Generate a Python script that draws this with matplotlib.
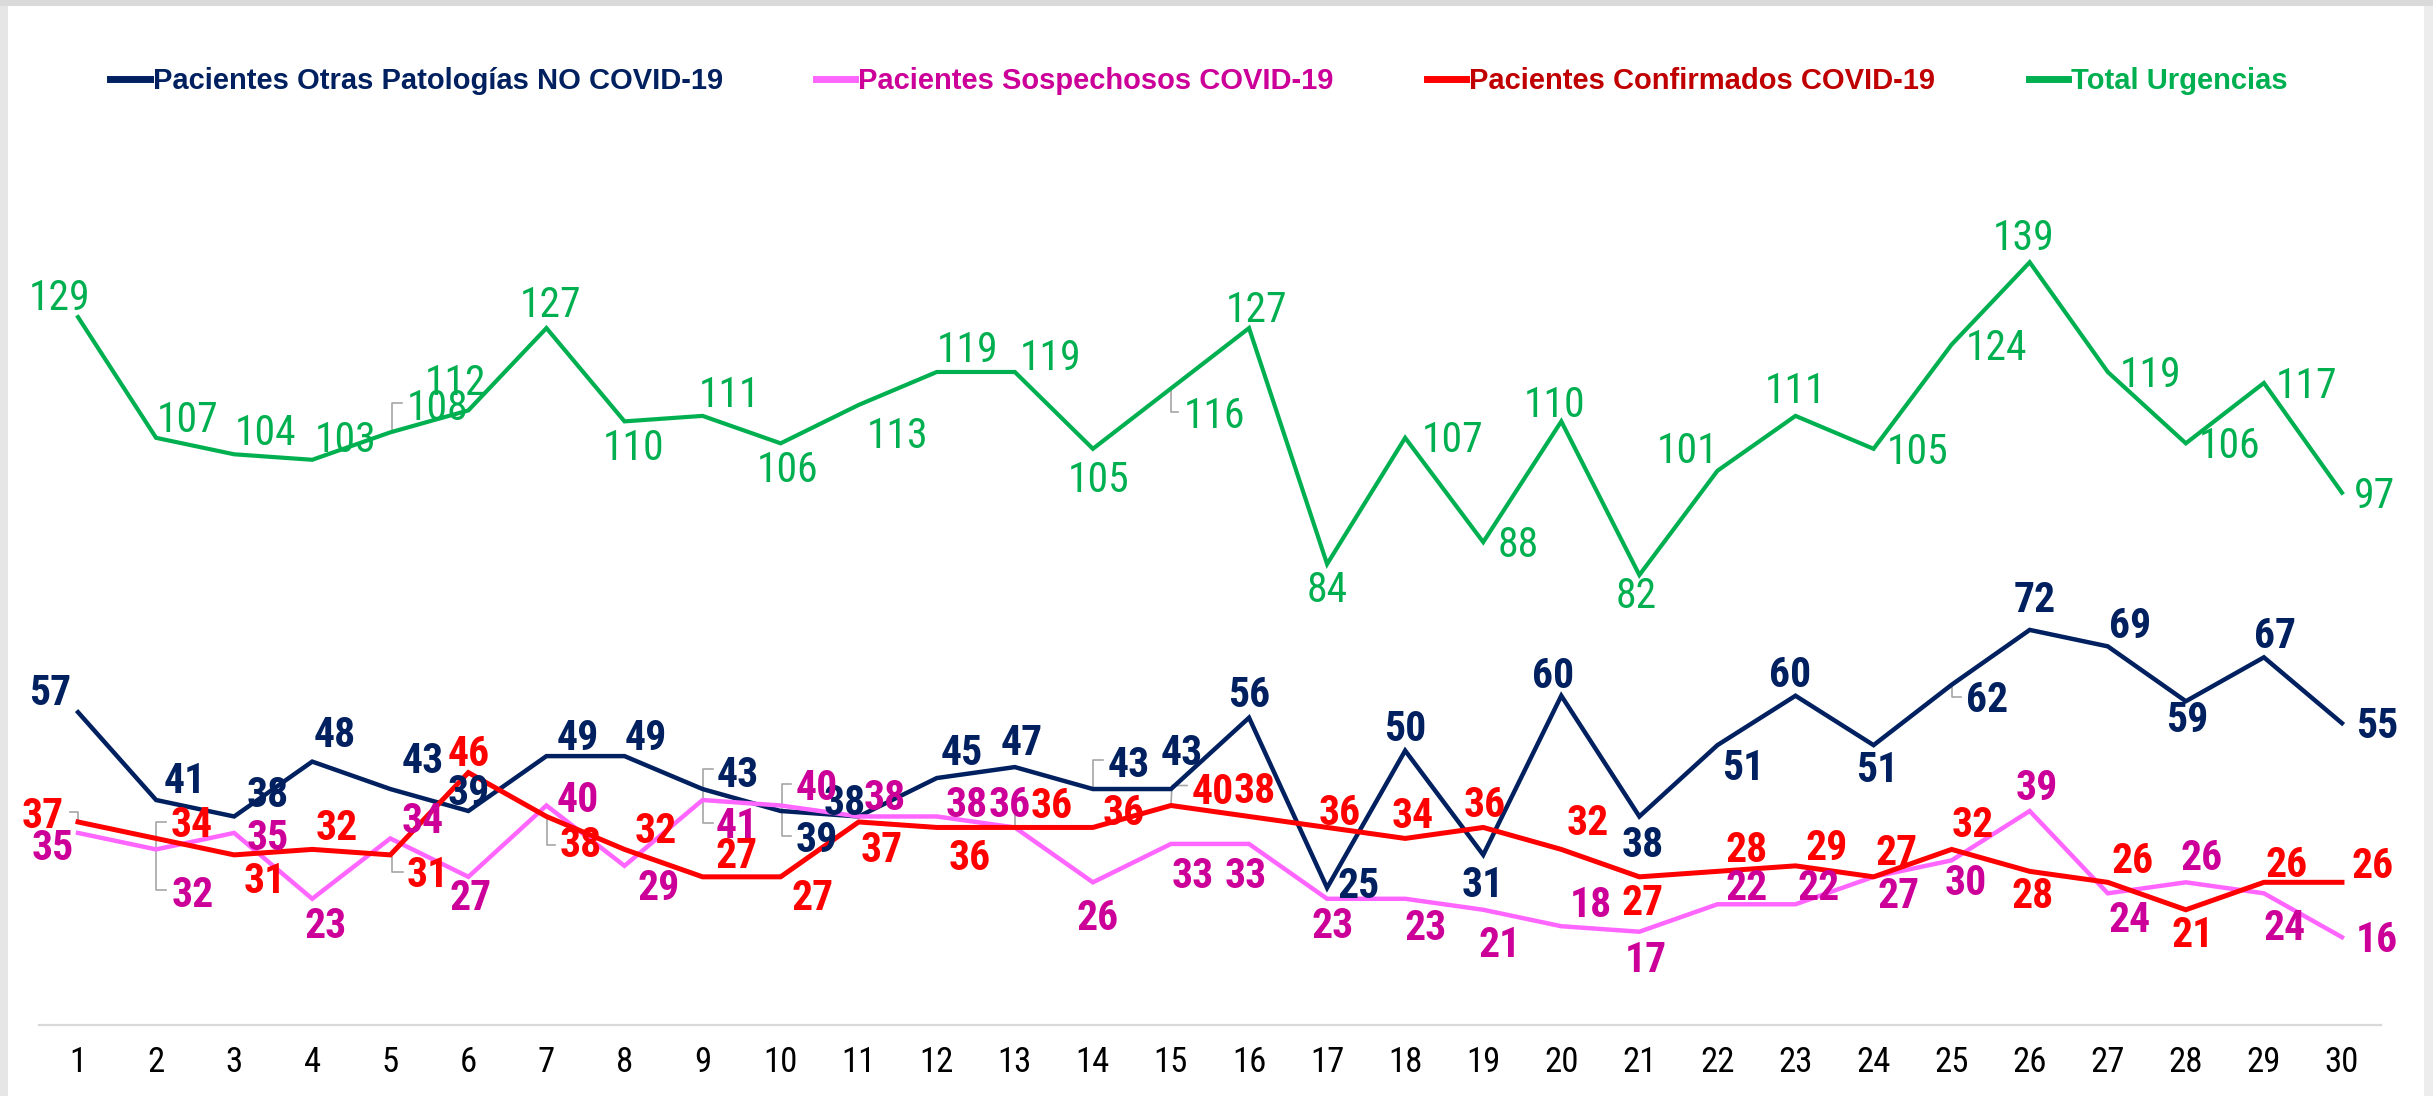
import matplotlib
matplotlib.use("Agg")
import matplotlib.pyplot as plt
import matplotlib.transforms as mtransforms
from matplotlib import font_manager
from matplotlib.lines import Line2D
from matplotlib.patches import Rectangle

# --- datos ---
dias = list(range(1, 31))
otras = [57, 41, 38, 48, 43, 39, 49, 49, 43, 39, 38, 45, 47, 43, 43,
         56, 25, 50, 31, 60, 38, 51, 60, 51, 62, 72, 69, 59, 67, 55]
sospechosos = [35, 32, 35, 23, 34, 27, 40, 29, 41, 40, 38, 38, 36, 26, 33,
               33, 23, 23, 21, 18, 17, 22, 22, 27, 30, 39, 24, 26, 24, 16]
confirmados = [37, 34, 31, 32, 31, 46, 38, 32, 27, 27, 37, 36, 36, 36, 40,
               38, 36, 34, 36, 32, 27, 28, 29, 27, 32, 28, 26, 21, 26, 26]
total = [129, 107, 104, 103, 108, 112, 127, 110, 111, 106, 113, 119, 119, 105, 116,
         127, 84, 107, 88, 110, 82, 101, 111, 105, 124, 139, 119, 106, 117, 97]

nombres = ["Pacientes Otras Patologías NO COVID-19",
           "Pacientes Sospechosos COVID-19",
           "Pacientes Confirmados COVID-19",
           "Total Urgencias"]

# --- estilo ---
NAVY = "#002060"
PINK_LINE = "#FF66FF"
PINK_TXT = "#CC0099"
RED = "#FF0000"
RED_TXT = "#C00000"
GREEN = "#00B050"
LEADER = "#A6A6A6"

# Arial Narrow no está: buscamos una sans estrecha parecida
nombres_fuentes = {f.name for f in font_manager.fontManager.ttflist}
narrow = [n for n in ["Liberation Sans Narrow", "Arial Narrow", "Roboto Condensed",
                      "Archivo Narrow"] if n in nombres_fuentes]
if narrow:
    NARROW = [narrow[0], "Liberation Sans", "DejaVu Sans"]
    LBL_SIZE = 30
else:
    NARROW = ["Liberation Sans", "DejaVu Sans"]
    LBL_SIZE = 27
SANS = ["Liberation Sans", "DejaVu Sans"]

# desplazamiento de cada etiqueta respecto a su punto (px, +x derecha, +y abajo)
off_otras = [(-28, -22), (29, -22), (34, -24), (23, -30), (32, -31), (0, -21),
             (31, -21), (21, -21), (35, -17), (36, 26), (-14, -16), (25, -28),
             (7, -27), (36, -27), (11, -39), (0, -26), (32, -5), (0, -25),
             (0, 27), (-8, -23), (3, 26), (26, 20), (-5, -24), (4, 22),
             (35, 12), (5, -33), (22, -23), (1, 16), (11, -24), (35, 0)]
off_sosp = [(-25, 12), (37, 43), (34, 2), (13, 24), (32, -20), (2, 18),
            (31, -8), (34, 19), (34, 23), (36, -20), (26, -21), (30, -14),
            (-5, -25), (5, 33), (22, 29), (-3, 29), (6, 24), (20, 26),
            (16, 32), (30, -24), (6, 25), (29, -19), (23, -19), (25, 16),
            (14, 20), (7, -26), (22, 24), (16, -27), (21, 32), (35, 0)]
off_conf = [(-35, -9), (36, -16), (31, 23), (25, -24), (37, 17), (0, -22),
            (34, 26), (31, -21), (34, -24), (32, 18), (23, 25), (33, 28),
            (37, -24), (31, -17), (42, -17), (6, -28), (13, -17), (8, -25),
            (1, -25), (26, -29), (3, 23), (29, -24), (31, -21), (23, -27),
            (21, -27), (3, 22), (25, -24), (7, 22), (23, -20), (31, -19)]
off_total = [(-18, -22), (32, -21), (31, -24), (33, -23), (47, -27), (-13, -30),
             (4, -26), (9, 24), (27, -24), (7, 24), (39, 28), (31, -25),
             (36, -17), (6, 28), (44, 25), (8, -21), (0, 23), (47, -1),
             (35, 0), (-7, -19), (-3, 18), (-30, -23), (0, -28), (44, 0),
             (45, 0), (-6, -27), (43, 0), (44, 0), (43, 0), (33, 0)]

# líneas guía grises de Excel: (serie, día, puntos en px relativos al punto)
guias = [
    (2, 1, [(-8, -10), (0, -10), (0, 0)]),
    (1, 2, [(10, -27), (0, -27), (0, 41), (10, 41)]),
    (2, 5, [(2, 2), (2, 17), (13, 17)]),
    (3, 5, [(12, -29), (2, -29), (2, 0)]),
    (2, 7, [(1, 1), (1, 29), (9, 29)]),
    (0, 9, [(10, -20), (0, -20), (0, 34), (10, 34)]),
    (1, 10, [(10, -22), (1, -22), (1, 30), (10, 30)]),
    (1, 13, [(0, -25), (0, 0)]),
    (0, 14, [(10, -29), (0, -29), (0, 0)]),
    (2, 15, [(0, 0), (1, -20), (16, -20)]),
    (3, 15, [(0, 2), (0, 24), (7, 24)]),
    (0, 25, [(0, 0), (0, 12), (9, 12)]),
]

W, H = 2433, 1096
fig = plt.figure(figsize=(W / 100, H / 100), dpi=100)
fig.patch.set_facecolor("white")

# marco gris de la captura
fig.patches.append(Rectangle((0, 0), 8 / W, 1, transform=fig.transFigure,
                             facecolor="#E6E6E6", edgecolor="none", zorder=0))
fig.patches.append(Rectangle((2424 / W, 0), 9 / W, 1, transform=fig.transFigure,
                             facecolor="#EDEDED", edgecolor="none", zorder=0))
fig.patches.append(Rectangle((0, 1 - 6 / H), 1, 6 / H, transform=fig.transFigure,
                             facecolor="#DADADA", edgecolor="none", zorder=0))

ax = fig.add_axes([39 / W, (H - 1025) / H, (2381 - 39) / W, (1025 - 147) / H])
ax.set_facecolor("none")
ax.set_xlim(0.5, 30.5)
ax.set_ylim(0, 160)

valores = [otras, sospechosos, confirmados, total]
series = [
    (otras, NAVY, NAVY, "bold", off_otras, 3.2),
    (sospechosos, PINK_LINE, PINK_TXT, "bold", off_sosp, 3.2),
    (confirmados, RED, RED, "bold", off_conf, 3.6),
    (total, GREEN, GREEN, "normal", off_total, 3.0),
]

for vals, lc, tc, fw, offs, lw in series:
    ax.plot(dias, vals, color=lc, lw=lw, solid_joinstyle="miter", zorder=3)
    for d, v, (dx, dy) in zip(dias, vals, offs):
        ax.annotate(str(v), (d, v), xytext=(dx, -(dy + LBL_SIZE * 0.5)),
                    textcoords="offset pixels", ha="center", va="baseline",
                    color=tc, fontsize=LBL_SIZE, fontweight=fw, family=NARROW,
                    zorder=4)

for si, d, pts in guias:
    v = valores[si][d - 1]
    tr = mtransforms.Affine2D().scale(1, -1) + mtransforms.ScaledTranslation(d, v, ax.transData)
    ax.add_line(Line2D([p[0] for p in pts], [p[1] for p in pts], transform=tr,
                       color=LEADER, lw=1.2, zorder=2))

for s in ["top", "right", "left"]:
    ax.spines[s].set_visible(False)
ax.spines["bottom"].set_color("#D9D9D9")
ax.spines["bottom"].set_linewidth(1.6)
ax.set_yticks([])
ax.set_xticks(dias)
ax.set_xticklabels([str(d) for d in dias], family=NARROW, fontsize=25,
                   color="#000000")
ax.tick_params(axis="x", length=0, pad=15)

# leyenda
handles = [Line2D([], [], color=c, lw=5) for c in [NAVY, PINK_LINE, RED, GREEN]]
leg = fig.legend(handles, nombres, loc="center", ncol=4,
                 bbox_to_anchor=(1199 / W, 1 - 81 / H), frameon=False,
                 prop={"family": SANS, "weight": "bold", "size": 21},
                 handlelength=1.35, handletextpad=0.1, columnspacing=3.2)
for t, c in zip(leg.get_texts(), [NAVY, PINK_TXT, RED_TXT, GREEN]):
    t.set_color(c)

fig.savefig("out.png", dpi=100, facecolor="white")
